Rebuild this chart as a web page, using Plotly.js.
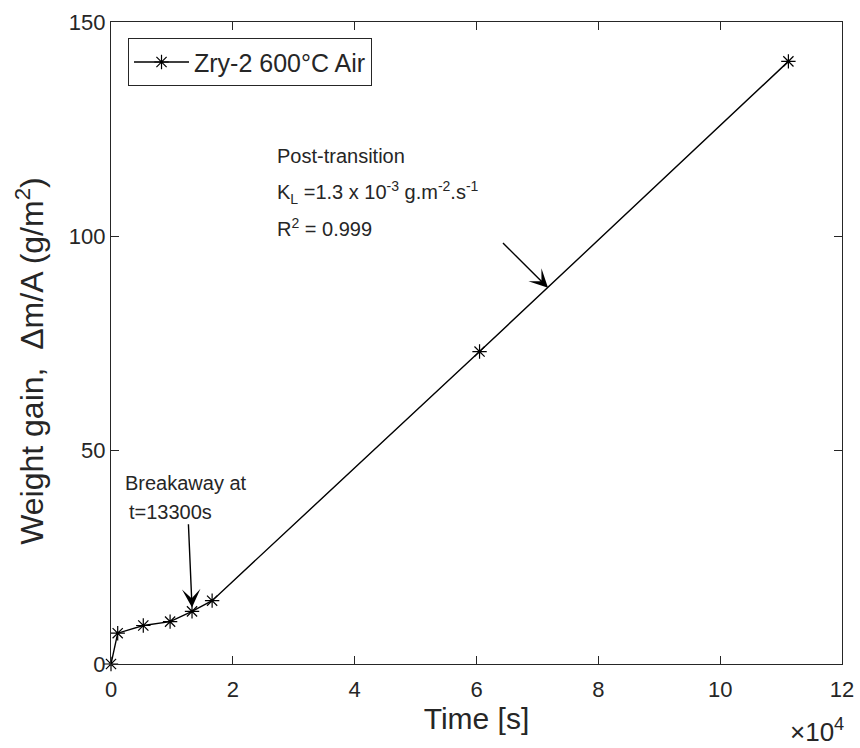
<!DOCTYPE html>
<html>
<head>
<meta charset="utf-8">
<script src="https://cdn.plot.ly/plotly-3.0.1.min.js"></script>
<style>
  html, body { margin: 0; padding: 0; background: #fff; }
  #chart { width: 860px; height: 748px; }
</style>
</head>
<body>
<div id="chart"></div>
<script>
// Oxidation of Zry-2 at 600 °C in air: weight gain versus exposure time
const timeSec    = [0, 1100, 5300, 9700, 13300, 16600, 60500, 111200];
const weightGain = [0, 7.2, 9.0, 9.9, 12.3, 14.8, 73.0, 140.8];

const xTickVals  = [0, 20000, 40000, 60000, 80000, 100000, 120000];
const xTickText  = ['0', '2', '4', '6', '8', '10', '12'];
const yTickVals  = [0, 50, 100, 150];

const seriesName = 'Zry-2 600°C Air';
const yTitle     = 'Weight gain,  \u0394m/A (g/m<sup>2</sup>)';
const breakaway  = { t: 13300, w: 12.3 };

const ink = '#262626';
const font = 'Liberation Sans, Arial, Helvetica, sans-serif';

const trace = {
  x: timeSec,
  y: weightGain,
  name: seriesName,
  type: 'scatter',
  mode: 'lines+markers',
  cliponaxis: false,
  line: { color: '#000', width: 1.4 },
  marker: { symbol: 'asterisk-open', size: 12, color: '#000', line: { color: '#000', width: 1.2 } }
};

const arrowStyle = {
  showarrow: true, arrowhead: 3, arrowsize: 2.2, arrowwidth: 1.4, arrowcolor: '#000',
  axref: 'x', ayref: 'y', text: ''
};

const textStyle = { showarrow: false, xanchor: 'left', yanchor: 'middle', font: { family: font, size: 20, color: ink } };

const layout = {
  width: 860, height: 748, autosize: false,
  paper_bgcolor: '#fff', plot_bgcolor: '#fff',
  margin: { l: 111, r: 18, t: 22, b: 84 },
  font: { family: font, color: ink },
  showlegend: true,
  legend: {
    x: 0.023, y: 0.975, xanchor: 'left', yanchor: 'top',
    bgcolor: '#fff', bordercolor: ink, borderwidth: 1.2,
    itemwidth: 55,
    font: { family: font, size: 25, color: ink }
  },
  xaxis: {
    range: [0, 120000], tickmode: 'array', tickvals: xTickVals, ticktext: xTickText,
    ticks: 'inside', ticklen: 8, tickcolor: ink, tickwidth: 1,
    ticklabelstandoff: 5,
    showline: true, linecolor: ink, linewidth: 1.2, mirror: 'ticks',
    showgrid: false, zeroline: false,
    tickfont: { family: font, size: 22, color: ink },
    title: { text: 'Time [s]', font: { family: font, size: 30, color: ink }, standoff: 4 }
  },
  yaxis: {
    range: [0, 150], tickmode: 'array', tickvals: yTickVals,
    ticks: 'inside', ticklen: 8, tickcolor: ink, tickwidth: 1,
    showline: true, linecolor: ink, linewidth: 1.2, mirror: 'ticks',
    showgrid: false, zeroline: false,
    tickfont: { family: font, size: 22, color: ink }
  },
  annotations: [
    { xref: 'paper', yref: 'paper', x: -0.111, y: 0.472, xanchor: 'center', yanchor: 'middle',
      textangle: -90, showarrow: false, text: yTitle, font: { family: font, size: 32, color: ink } },
    Object.assign({}, arrowStyle, { x: breakaway.t, y: breakaway.w + 0.9, ax: 12700, ay: 33 }),
    Object.assign({}, arrowStyle, { x: 71740, y: 87.9, ax: 64100, ay: 98.7 }),
    Object.assign({}, textStyle, { x: 2030, y: 42.4, text: 'Breakaway at' }),
    Object.assign({}, textStyle, { x: 2670, y: 35.6, text: 't=13300s' }),
    Object.assign({}, textStyle, { x: 26950, y: 118.8, text: 'Post-transition' }),
    Object.assign({}, textStyle, { x: 26950, y: 110.2, text: 'K<sub>L</sub> =1.3 x 10<sup>-3</sup> g.m<sup>-2</sup>.s<sup>-1</sup>' }),
    Object.assign({}, textStyle, { x: 26950, y: 102.0, text: 'R<sup>2</sup> = 0.999' }),
    { xref: 'paper', yref: 'paper', x: 1.006, y: -0.103, xanchor: 'right', yanchor: 'middle',
      showarrow: false, text: '\u00d710<sup>4</sup>', font: { family: font, size: 26, color: ink } }
  ]
};

Plotly.newPlot('chart', [trace], layout, { displayModeBar: false, staticPlot: true });
</script>
</body>
</html>
